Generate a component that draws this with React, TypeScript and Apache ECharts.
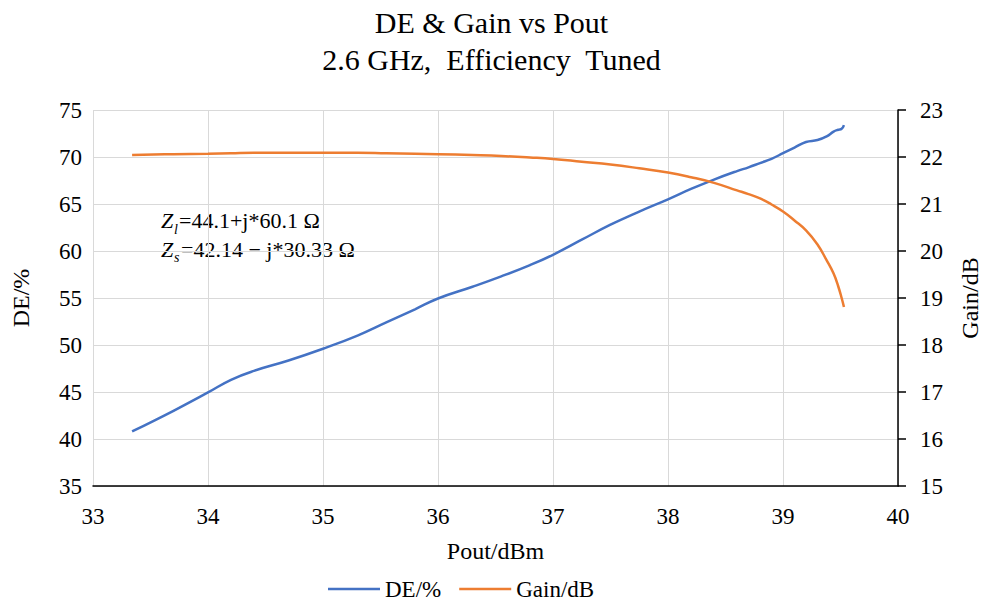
import React, { useEffect, useRef } from "react";
import * as echarts from "echarts";

const titleLines = ["DE & Gain vs Pout", "2.6 GHz,  Efficiency  Tuned"];
const xTicks = { min: 33, max: 40, interval: 1 };
const deTicks = { min: 35, max: 75, interval: 5 };
const gainTicks = { min: 15, max: 23, interval: 1 };

const pout = [
  33.34, 33.7, 34.0, 34.2, 34.4, 34.7, 35.0, 35.3, 35.55, 35.8, 36.0, 36.3, 36.55, 36.8, 37.0,
  37.25, 37.5, 37.75, 38.0, 38.2, 38.4, 38.6, 38.7, 38.8, 38.9, 39.0, 39.1, 39.2, 39.3, 39.38,
  39.44, 39.48, 39.51, 39.53,
];
const de = [
  40.8, 43.0, 44.95, 46.3, 47.25, 48.35, 49.6, 51.0, 52.4, 53.8, 54.95, 56.2, 57.3, 58.5, 59.6,
  61.2, 62.8, 64.2, 65.5, 66.6, 67.6, 68.5, 68.9, 69.35, 69.8, 70.4, 71.0, 71.6, 71.8, 72.2,
  72.7, 72.9, 73.0, 73.4,
];
const gain = [
  22.04, 22.06, 22.07, 22.08, 22.09, 22.09, 22.09, 22.09, 22.08, 22.07, 22.06, 22.04, 22.02,
  21.99, 21.96, 21.9, 21.84, 21.76, 21.67, 21.57, 21.45, 21.29, 21.21, 21.12, 20.99, 20.84,
  20.65, 20.44, 20.14, 19.8, 19.52, 19.25, 19.0, 18.81,
];

const FONT = "Liberation Serif";

export default function App() {
  const ref = useRef<HTMLDivElement>(null);
  useEffect(() => {
    if (!ref.current) return;
    const chart = echarts.init(ref.current, null, { renderer: "svg" });
    const gridStyle = { lineStyle: { color: "#d9d9d9", width: 1 } };
    const txt = (text: string, x: number, y: number, size: number, italic: boolean) => ({
      type: "text",
      x,
      y,
      style: {
        text,
        fill: "#000",
        fontFamily: FONT,
        fontSize: size,
        fontStyle: italic ? "italic" : "normal",
        verticalAlign: "middle",
        align: "left",
      },
    });
    chart.setOption({
      animation: false,
      backgroundColor: "#ffffff",
      textStyle: { fontFamily: FONT, color: "#000" },
      title: {
        text: titleLines.join("\n"),
        left: "center",
        top: 4,
        padding: 0,
        textStyle: { fontFamily: FONT, fontSize: 30, fontWeight: "normal", color: "#000", lineHeight: 37 },
      },
      grid: { left: 93, right: 85, top: 110, bottom: 120, containLabel: false, outerBoundsMode: "none" },
      legend: {
        left: 326,
        top: 575,
        icon: "rect",
        itemWidth: 52,
        itemHeight: 2.5,
        itemGap: 18,
        padding: 2,
        textStyle: { fontFamily: FONT, fontSize: 23, lineHeight: 24, color: "#000" },
        data: ["DE/%", "Gain/dB"],
      },
      xAxis: {
        type: "value",
        ...xTicks,
        name: "Pout/dBm",
        nameLocation: "middle",
        nameGap: 53,
        nameTextStyle: { fontFamily: FONT, fontSize: 24, color: "#000" },
        axisLine: { show: true, lineStyle: { color: "#000", width: 1.5 } },
        axisTick: { show: false },
        axisLabel: { fontFamily: FONT, fontSize: 23, color: "#000", margin: 19 },
        splitLine: { show: true, ...gridStyle },
      },
      yAxis: [
        {
          type: "value",
          ...deTicks,
          position: "left",
          name: "DE/%",
          nameLocation: "middle",
          nameRotate: 90,
          nameGap: 60,
          nameTextStyle: { fontFamily: FONT, fontSize: 24, color: "#000" },
          axisLine: { show: false },
          axisTick: { show: false },
          axisLabel: { fontFamily: FONT, fontSize: 23, color: "#000", margin: 11 },
          splitLine: { show: true, ...gridStyle },
        },
        {
          type: "value",
          ...gainTicks,
          position: "right",
          name: "Gain/dB",
          nameLocation: "middle",
          nameRotate: 90,
          nameGap: 60,
          nameTextStyle: { fontFamily: FONT, fontSize: 24, color: "#000" },
          axisLine: { show: true, lineStyle: { color: "#000", width: 1.5 } },
          axisTick: { show: true, inside: false, length: 8, lineStyle: { color: "#000", width: 1.5 } },
          axisLabel: { fontFamily: FONT, fontSize: 23, color: "#000", margin: 22 },
          splitLine: { show: false },
        },
      ],
      graphic: [
        txt("Z", 161, 220.5, 22, true),
        txt("l", 174, 229, 14, true),
        txt("=44.1+j*60.1 \u03A9", 179, 220.5, 22, false),
        txt("Z", 161, 249.5, 22, true),
        txt("s", 174, 257.5, 14, true),
        txt("=42.14 \u2212 j*30.33 \u03A9", 181, 249.5, 22, false),
      ],
      series: [
        {
          name: "DE/%",
          type: "line",
          yAxisIndex: 0,
          smooth: 0.45,
          symbol: "none",
          lineStyle: { color: "#4472C4", width: 2.5 },
          itemStyle: { color: "#4472C4" },
          data: pout.map((p, i) => [p, de[i]]),
        },
        {
          name: "Gain/dB",
          type: "line",
          yAxisIndex: 1,
          smooth: 0.45,
          symbol: "none",
          lineStyle: { color: "#ED7D31", width: 2.5 },
          itemStyle: { color: "#ED7D31" },
          data: pout.map((p, i) => [p, gain[i]]),
        },
      ],
    });
    return () => chart.dispose();
  }, []);
  return (
    <div
      ref={ref}
      style={{ position: "fixed", left: 0, top: 0, width: 983, height: 606, background: "#fff" }}
    />
  );
}
